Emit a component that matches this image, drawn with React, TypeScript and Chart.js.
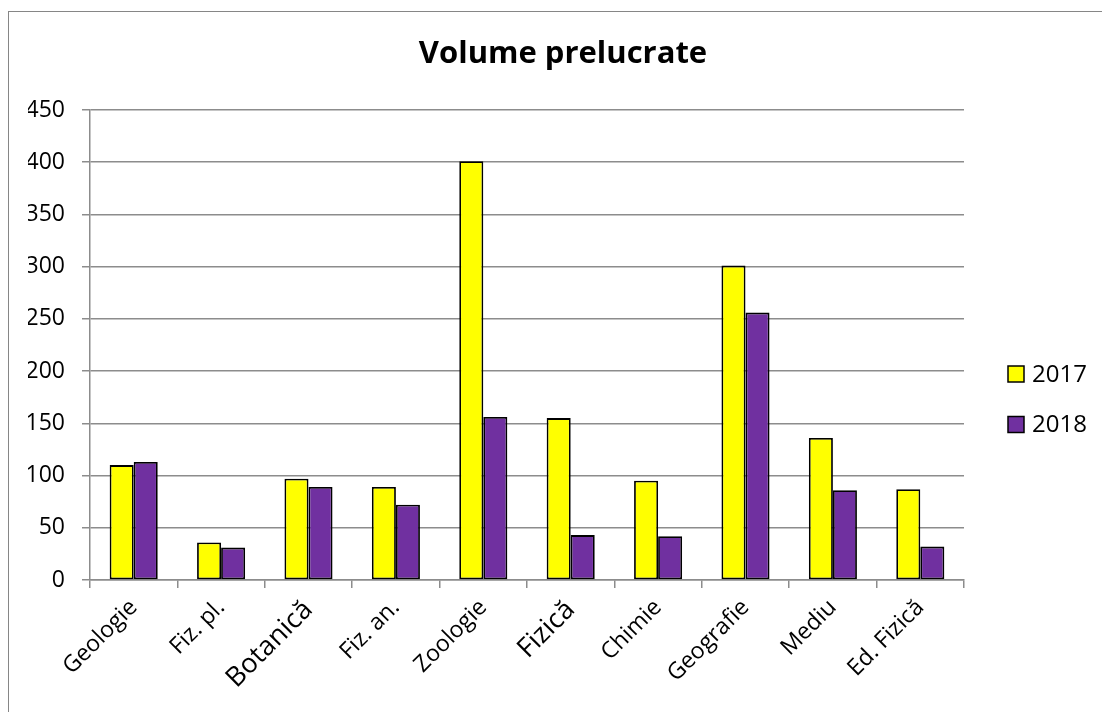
import React, { useEffect, useRef } from "react";
import { Chart, registerables } from "chart.js";

Chart.register(...registerables);

const categories = [
  "Geologie",
  "Fiz. pl.",
  "Botanică",
  "Fiz. an.",
  "Zoologie",
  "Fizică",
  "Chimie",
  "Geografie",
  "Mediu",
  "Ed. Fizică",
];
const values2017 = [110, 36, 97, 89, 401, 155, 95, 301, 136, 87];
const values2018 = [113, 31, 89, 72, 156, 43, 42, 256, 86, 32];
const seriesLabels = ["2017", "2018"];
const yTicks = { min: 0, max: 450, step: 50 };
const titleText = "Volume prelucrate";
const bigLabels = ["Botanică", "Fizică"];

const FONT = "'Open Sans', Carlito, Calibri, sans-serif";
const GRID = "#8c8c8c";

const sideLegend = {
  id: "sideLegend",
  afterDraw(chart: any) {
    const { ctx, chartArea } = chart;
    const mid = (chartArea.top + chartArea.bottom) / 2;
    ctx.save();
    chart.data.datasets.forEach((ds: any, i: number) => {
      const x = chartArea.right + 44;
      const yc = mid + 29 + i * 50.5;
      ctx.fillStyle = ds.backgroundColor;
      ctx.fillRect(x, yc - 8, 16, 16);
      ctx.lineWidth = 1.5;
      ctx.strokeStyle = "#000";
      ctx.strokeRect(x, yc - 8, 16, 16);
      ctx.fillStyle = "#000";
      ctx.font = `24px ${FONT}`;
      ctx.textAlign = "left";
      ctx.textBaseline = "middle";
      ctx.fillText(ds.label, x + 24, yc + 1);
    });
    ctx.restore();
  },
};

export default function App() {
  const ref = useRef<HTMLCanvasElement | null>(null);

  useEffect(() => {
    if (!ref.current) return;
    const chart = new Chart(ref.current, {
      type: "bar",
      data: {
        labels: categories,
        datasets: [
          {
            label: seriesLabels[0],
            data: values2017,
            backgroundColor: "#FFFF00",
            borderColor: "#000000",
            borderWidth: 1.8,
            borderSkipped: false,
          },
          {
            label: seriesLabels[1],
            data: values2018,
            backgroundColor: "#7030A0",
            borderColor: "#000000",
            borderWidth: 1.8,
            borderSkipped: false,
          },
        ],
      },
      options: {
        responsive: true,
        maintainAspectRatio: false,
        animation: false,
        datasets: { bar: { categoryPercentage: 0.55, barPercentage: 1 } },
        layout: { padding: { left: 28, right: 0, top: 36, bottom: 0 } },
        plugins: {
          legend: { display: false },
          tooltip: { enabled: false },
          title: {
            display: true,
            text: titleText,
            color: "#000",
            font: { family: FONT, size: 31, weight: "bold", lineHeight: 1.2 },
            padding: { top: 0, bottom: 36.8 },
          },
        },
        scales: {
          x: {
            grid: {
              display: true,
              offset: true,
              drawOnChartArea: false,
              drawTicks: true,
              tickLength: 8,
              color: GRID,
              lineWidth: 1.5,
            },
            border: { display: true, color: GRID, width: 1.5 },
            ticks: {
              color: "#000",
              minRotation: 45,
              maxRotation: 45,
              padding: 6,
              autoSkip: false,
              font: (c: any) => {
                const lbl = categories[c.index];
                return { family: FONT, size: bigLabels.includes(lbl) ? 27 : 23 };
              },
            },
            afterFit: (s: any) => {
              s.height = 132;
            },
          },
          y: {
            min: yTicks.min,
            max: yTicks.max,
            ticks: {
              stepSize: yTicks.step,
              color: "#000",
              padding: 17,
              font: { family: FONT, size: 23 },
            },
            grid: {
              color: GRID,
              lineWidth: 1.5,
              drawTicks: true,
              tickLength: 8,
            },
            border: { display: true, color: GRID, width: 1.5 },
            afterFit: (s: any) => {
              s.width = 62;
            },
          },
          spacer: {
            type: "linear",
            position: "right",
            display: true,
            grid: { display: false, drawTicks: false },
            border: { display: false },
            ticks: { display: false },
            afterFit: (s: any) => {
              s.width = 134;
            },
          },
        },
      },
      plugins: [sideLegend],
    } as any);
    return () => chart.destroy();
  }, []);

  return (
    <div
      style={{
        position: "fixed",
        left: 0,
        top: 0,
        width: 1102,
        height: 712,
        overflow: "hidden",
        background: "#fff",
      }}
    >
      <div
        style={{
          position: "absolute",
          left: 8,
          top: 11,
          width: 2000,
          height: 2000,
          borderLeft: "1px solid #868686",
          borderTop: "1px solid #868686",
        }}
      />
      <div style={{ position: "absolute", left: 0, top: 0, width: 1098, height: 712 }}>
        <canvas ref={ref} />
      </div>
    </div>
  );
}
